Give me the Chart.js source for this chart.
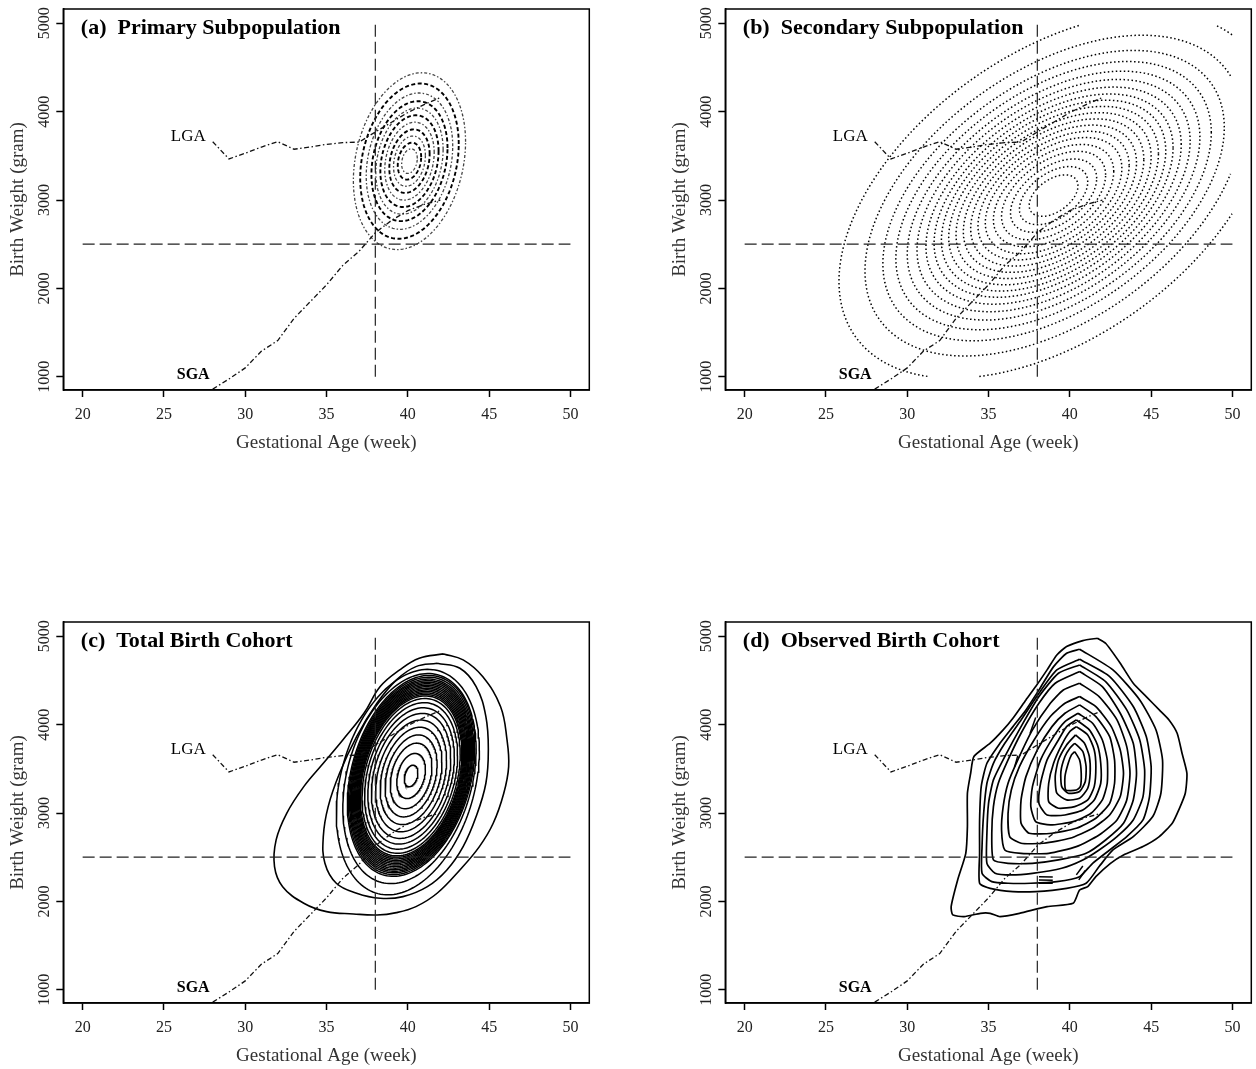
<!DOCTYPE html>
<html><head><meta charset="utf-8">
<script src="https://cdn.jsdelivr.net/npm/chart.js@4.4.1/dist/chart.umd.min.js"></script>
<style>
html,body{margin:0;padding:0;background:#fff;overflow:hidden;width:1256px;height:1069px;}
canvas{position:absolute;}
</style></head><body>
<canvas id="ca" width="600" height="460" style="left:0px;top:0px"></canvas>
<canvas id="cb" width="594" height="460" style="left:662px;top:0px"></canvas>
<canvas id="cc" width="600" height="456" style="left:0px;top:613px"></canvas>
<canvas id="cd" width="594" height="456" style="left:662px;top:613px"></canvas>
<script>
// ---------- data ----------
const X_TICKS = [20, 25, 30, 35, 40, 45, 50];
const Y_TICKS = [1000, 2000, 3000, 4000, 5000];
const GRID_X = [20, 50];
const GRID_Y = [1000, 5000];
const CUTOFF_WEEK = 38;
const CUTOFF_WEIGHT = 2500;

const GA_WEEKS = [28, 29, 30, 31, 32, 33, 34, 35, 36, 37, 38, 39, 40, 41, 42];
const LGA_BW = [3660, 3465, 3530, 3600, 3660, 3575, 3600, 3630, 3650, 3655, 3770, 3880, 3990, 4080, 4160];
const SGA_BW = [860, 975, 1100, 1290, 1410, 1660, 1850, 2040, 2260, 2420, 2630, 2770, 2880, 2950, 3000];
const LGA_LABEL_AT = [26.5, 3713];
const SGA_LABEL_AT = [26.8, 1022];

// (a) primary subpopulation: normal-density contours (centre, correlation, weight/week ratio, half-widths)
const A_CENTER = [40.1, 3440];
const A_RHO = 0.22;
const A_RATIO = 290;
const A_HALFWIDTHS = [3.45, 3.03, 2.66, 2.34, 2.07, 1.79, 1.52, 1.24, 0.98, 0.72, 0.48];

// (b) secondary subpopulation
const B_CENTER = [39.0, 3050];
const B_RHO = 0.47;
const B_RATIO = 156.5;
const B_HALFWIDTHS = [13.2, 11.6, 10.5, 9.7, 9.0, 8.4, 7.85, 7.35, 6.9, 6.45, 6.0, 5.55, 5.1, 4.65, 4.2, 3.7, 3.2, 2.65, 2.1, 1.5];

// (c) total birth cohort: inner elliptical contours + outer contours
const C_CENTER = [40.2, 3420];
const C_RHO = 0.28;
const C_RATIO = 290;
const C_HALFWIDTHS = [0.42, 0.88, 1.28, 1.6, 1.9, 2.18, 2.44, 2.66, 2.86, 3.02, 3.12, 3.18, 3.24, 3.3, 3.36, 3.42, 3.48, 3.54, 3.6, 3.66, 3.72, 3.78, 3.85, 3.92];
const C_MID_CONTOURS = [[40.1, 3390, 4.1], [40.0, 3350, 4.4]];
const C_OUTER_1 = [[42.2,4801],[43.4,4733],[44.6,4544],[45.7,4205],[46.1,3827],[46.2,3525],[45.9,3224],[45.25,2884],[44.4,2620],[43.2,2356],[41.8,2092],[40.5,1941],[39.3,1873],[38.1,1846],[36.65,1858],[35.0,1884],[33.6,1979],[32.3,2167],[31.8,2394],[31.9,2696],[32.55,2997],[33.6,3299],[34.8,3563],[36.0,3827],[37.3,4129],[38.3,4431],[39.5,4620],[40.7,4752],[42.2,4801]];
const C_OUTER_2 = [[41.8,4695],[43.2,4638],[44.2,4431],[44.8,4092],[44.95,3714],[44.8,3337],[44.2,2960],[43.4,2620],[42.4,2356],[41.2,2167],[39.7,2054],[38.3,2035],[36.85,2092],[35.6,2205],[34.9,2431],[34.8,2733],[35.1,3073],[35.8,3450],[36.85,3865],[38.1,4242],[39.3,4507],[40.5,4657],[41.8,4695]];

// (d) observed birth cohort: contour polylines
const D_C1 = [[41.7,4978],[42.2,4921],[43.1,4695],[43.9,4469],[44.7,4318],[45.5,4167],[46.1,4054],[46.6,3903],[46.9,3676],[47.2,3450],[47.1,3224],[46.7,3035],[46.3,2884],[45.5,2733],[44.5,2620],[43.3,2526],[42.5,2431],[41.6,2280],[41.1,2167],[40.6,2129],[40.2,1978],[38.6,1941],[36.9,1865],[35.7,1828],[35.1,1865],[34.5,1865],[33.5,1828],[32.8,1847],[32.7,1941],[33.1,2243],[33.6,2544],[33.7,2846],[33.7,3224],[33.9,3450],[34.1,3639],[35.1,3790],[35.9,3941],[36.5,4073],[37.3,4280],[37.9,4431],[38.6,4620],[39.2,4789],[39.8,4884],[40.8,4952],[41.7,4978]];
const D_C2 = [[40.6,4854],[42.65,4620],[44.3,4280],[45.3,3940],[45.7,3601],[45.6,3224],[45.1,2960],[43.9,2733],[42.65,2582],[41.8,2394],[41.0,2205],[39.8,2148],[37.9,2111],[36.5,2111],[35.1,2148],[34.45,2205],[34.45,2544],[34.45,2922],[34.55,3299],[34.9,3563],[35.7,3789],[36.5,3978],[37.3,4167],[38.1,4393],[39.0,4657],[39.8,4808],[40.6,4854]];
const D_C3 = [[40.6,4740],[42.45,4544],[43.9,4205],[44.7,3865],[45.0,3525],[44.9,3186],[44.5,2922],[43.5,2733],[42.45,2582],[41.4,2431],[40.6,2280],[39.2,2224],[37.6,2205],[36.2,2205],[35.2,2224],[34.6,2318],[34.6,2620],[34.7,2997],[34.9,3337],[35.3,3563],[36.0,3789],[37.0,4054],[38.1,4356],[39.2,4620],[40.6,4740]];
const D_C4 = [[40.6,4676],[42.2,4488],[43.5,4167],[44.3,3827],[44.6,3488],[44.5,3186],[43.9,2922],[42.9,2733],[41.8,2582],[40.8,2469],[39.5,2375],[37.7,2318],[36.4,2299],[35.4,2318],[34.9,2431],[34.9,2771],[35.0,3110],[35.3,3375],[36.0,3639],[37.0,3978],[38.1,4318],[39.3,4582],[40.6,4676]];
const D_C5 = [[40.6,4601],[42.0,4431],[43.1,4129],[43.9,3789],[44.1,3450],[43.9,3148],[43.3,2884],[42.2,2695],[41.0,2544],[39.3,2469],[37.7,2431],[36.2,2431],[35.3,2469],[35.2,2771],[35.3,3073],[35.6,3337],[36.2,3601],[37.0,3903],[38.1,4242],[39.1,4469],[40.6,4601]];
const D_C6 = [[40.6,4469],[41.8,4318],[42.9,4054],[43.5,3752],[43.7,3450],[43.5,3148],[42.9,2922],[41.8,2752],[40.4,2620],[38.7,2544],[37.0,2544],[36.0,2582],[35.8,2808],[35.9,3073],[36.2,3337],[36.8,3601],[37.7,3941],[38.8,4242],[39.6,4393],[40.6,4469]];
const D_C7 = [[40.6,4318],[41.6,4205],[42.55,3978],[43.1,3714],[43.3,3450],[43.1,3186],[42.45,2978],[41.4,2827],[40.0,2714],[38.4,2658],[37.0,2658],[36.3,2733],[36.2,2997],[36.4,3261],[36.9,3525],[37.8,3827],[38.8,4092],[39.7,4242],[40.6,4318]];
const D_C8 = [[40.6,4224],[41.6,4092],[42.45,3865],[42.75,3601],[42.75,3337],[42.45,3110],[41.6,2941],[40.4,2827],[38.9,2771],[37.5,2771],[37.0,2884],[37.0,3148],[37.3,3412],[38.0,3714],[38.9,3978],[39.7,4129],[40.6,4224]];
const D_C9 = [[40.5,4129],[41.4,4016],[42.0,3827],[42.3,3601],[42.3,3337],[42.0,3148],[41.3,2997],[40.2,2903],[38.8,2865],[37.9,2903],[37.6,3073],[37.7,3299],[38.2,3601],[39.0,3865],[39.7,4035],[40.5,4129]];
const D_C10 = [[40.4,4054],[41.2,3941],[41.7,3771],[41.9,3563],[41.9,3337],[41.5,3148],[40.8,3035],[39.7,2978],[38.6,2978],[38.1,3110],[38.2,3337],[38.6,3601],[39.3,3827],[39.8,3978],[40.4,4054]];
const D_C11 = [[40.4,3978],[41.1,3884],[41.5,3714],[41.6,3525],[41.5,3299],[41.1,3148],[40.3,3073],[39.3,3054],[38.7,3129],[38.7,3337],[39.0,3563],[39.5,3771],[40.0,3922],[40.4,3978]];
const D_C12 = [[40.35,3884],[40.9,3790],[41.2,3639],[41.25,3450],[41.1,3280],[40.6,3167],[39.8,3148],[39.2,3224],[39.1,3412],[39.3,3601],[39.8,3771],[40.35,3884]];
const D_C13 = [[40.3,3790],[40.8,3695],[41.0,3525],[40.95,3356],[40.6,3243],[39.9,3224],[39.5,3299],[39.45,3469],[39.7,3639],[40.0,3733],[40.3,3790]];
const D_C14 = [[40.3,3695],[40.6,3601],[40.7,3450],[40.65,3299],[40.4,3261],[39.75,3261],[39.7,3412],[39.9,3563],[40.1,3658],[40.3,3695]];
const D_CONTOURS = [D_C1, D_C2, D_C3, D_C4, D_C5, D_C6, D_C7, D_C8, D_C9, D_C10, D_C11, D_C12, D_C13, D_C14];
// short contour fragments
const D_FRAGMENTS = [
  [[38.1,2280],[38.95,2275]], [[38.1,2243],[38.95,2240]], [[38.1,2205],[38.95,2205]],
  [[40.4,2300],[40.8,2400]], [[40.55,2243],[40.95,2350]],
  [[37.55,3900],[37.9,4080]], [[36.6,3520],[36.8,3650]]
];

// ---------- helpers ----------
const SERIF = '"Liberation Serif", "DejaVu Serif", serif';
const X_MIN = 18.81, X_MAX = 51.16, Y_MIN = 850, Y_MAX = 5162;

function inGrid(x, y) { return x >= GRID_X[0] && x <= GRID_X[1] && y >= GRID_Y[0] && y <= GRID_Y[1]; }
function contourEllipse(cx, cy, halfW, ratio, rho) {
  const pts = [], n = 160, q = Math.sqrt(1 - rho * rho), S = halfW * ratio;
  for (let i = 0; i <= n; i++) {
    const t = 2 * Math.PI * i / n;
    const x = cx + halfW * Math.cos(t);
    const y = cy + S * (rho * Math.cos(t) + q * Math.sin(t));
    pts.push(inGrid(x, y) ? {x, y} : {x: NaN, y: NaN});
  }
  return pts;
}
function fromPairs(arr) { return arr.map(p => ({x: p[0], y: p[1]})); }

function refDatasets() {
  return [
    {data: [{x: GRID_X[0], y: CUTOFF_WEIGHT}, {x: GRID_X[1], y: CUTOFF_WEIGHT}], borderColor: '#222', borderWidth: 1.2, borderDash: [12, 5]},
    {data: [{x: CUTOFF_WEEK, y: GRID_Y[0]}, {x: CUTOFF_WEEK, y: GRID_Y[1]}], borderColor: '#222', borderWidth: 1.2, borderDash: [12, 5]},
    {data: GA_WEEKS.map((w, i) => ({x: w, y: LGA_BW[i]})), borderColor: '#111', borderWidth: 1.3, borderDash: [5, 2.5, 1.5, 2.5]},
    {data: GA_WEEKS.map((w, i) => ({x: w, y: SGA_BW[i]})), borderColor: '#111', borderWidth: 1.3, borderDash: [5, 2.5, 1.5, 2.5]}
  ];
}

const decoPlugin = {
  id: 'deco',
  afterDraw(chart, args, opts) {
    const {ctx, chartArea: a, scales: {x, y}} = chart;
    ctx.save();
    ctx.strokeStyle = '#000'; ctx.lineWidth = 1.5;
    ctx.strokeRect(a.left, a.top, a.right - a.left, a.bottom - a.top);
    ctx.fillStyle = '#222';
    ctx.font = '16px ' + SERIF; ctx.textAlign = 'center'; ctx.textBaseline = 'middle';
    Y_TICKS.forEach(v => {
      ctx.save(); ctx.translate(a.left - 18.5, y.getPixelForValue(v)); ctx.rotate(-Math.PI / 2);
      ctx.fillText(String(v), 0, 0); ctx.restore();
    });
    ctx.fillStyle = '#000';
    ctx.font = 'bold 22px ' + SERIF; ctx.textAlign = 'left';
    ctx.fillText(opts.title, a.left + 17.5, a.top + 19);
    ctx.textAlign = 'center';
    ctx.font = '17px ' + SERIF;
    ctx.fillText('LGA', x.getPixelForValue(LGA_LABEL_AT[0]), y.getPixelForValue(LGA_LABEL_AT[1]));
    ctx.font = 'bold 16px ' + SERIF;
    ctx.fillText('SGA', x.getPixelForValue(SGA_LABEL_AT[0]), y.getPixelForValue(SGA_LABEL_AT[1]));
    ctx.restore();
  }
};

function makePanel(id, W, H, title, contourSets) {
  const datasets = refDatasets().concat(contourSets).map(d => Object.assign({showLine: true, pointRadius: 0, fill: false, spanGaps: false}, d));
  return new Chart(document.getElementById(id), {
    type: 'scatter',
    data: {datasets},
    options: {
      responsive: false, animation: false, devicePixelRatio: 1, events: [],
      layout: {padding: {left: 0, top: 9, right: W - 589.3, bottom: 0}},
      plugins: {legend: {display: false}, tooltip: {enabled: false}, deco: {title}},
      elements: {point: {radius: 0, hoverRadius: 0}},
      scales: {
        x: {
          type: 'linear', min: X_MIN, max: X_MAX,
          afterBuildTicks: s => { s.ticks = X_TICKS.map(v => ({value: v})); },
          afterFit: s => { s.height = H - 390; },
          ticks: {font: {family: SERIF, size: 16}, color: '#222', padding: 8, maxRotation: 0, autoSkip: false},
          grid: {drawOnChartArea: false, drawTicks: true, tickLength: 7, tickWidth: 1.5, color: '#000'},
          border: {display: true, color: '#000', width: 1.5},
          title: {display: true, text: 'Gestational Age (week)', font: {family: SERIF, size: 19}, color: '#333', padding: {top: 0, bottom: H - 443 - 11.4}}
        },
        y: {
          type: 'linear', min: Y_MIN, max: Y_MAX,
          afterBuildTicks: s => { s.ticks = Y_TICKS.map(v => ({value: v})); },
          afterFit: s => { s.width = 63.3; },
          ticks: {display: false},
          grid: {drawOnChartArea: false, drawTicks: true, tickLength: 7, tickWidth: 1.5, color: '#000'},
          border: {display: true, color: '#000', width: 1.5},
          title: {display: true, text: 'Birth Weight (gram)', font: {family: SERIF, size: 19}, color: '#333', padding: {top: 6.6, bottom: 0}}
        }
      }
    },
    plugins: [decoPlugin]
  });
}

// (a)
const setsA = A_HALFWIDTHS.map((hw, i) => ({
  data: contourEllipse(A_CENTER[0], A_CENTER[1], hw, A_RATIO, A_RHO),
  borderColor: i % 2 === 0 ? '#444' : '#000',
  borderWidth: i % 2 === 0 ? 1.3 : 1.9,
  borderDash: i % 2 === 0 ? [3, 2, 1.5, 2] : [4, 2.5]
}));
makePanel('ca', 600, 460, '(a)  Primary Subpopulation', setsA);

// (b)
const setsB = B_HALFWIDTHS.map(hw => ({
  data: contourEllipse(B_CENTER[0], B_CENTER[1], hw, B_RATIO, B_RHO),
  borderColor: '#000', borderWidth: 1.5, borderDash: [1.5, 2.5]
}));
makePanel('cb', 594, 460, '(b)  Secondary Subpopulation', setsB);

// (c)
const setsC = C_HALFWIDTHS.map(hw => ({
  data: contourEllipse(C_CENTER[0], C_CENTER[1], hw, C_RATIO, C_RHO),
  borderColor: '#000', borderWidth: 1.5
})).concat(C_MID_CONTOURS.map(c => ({
  data: contourEllipse(c[0], c[1], c[2], C_RATIO, C_RHO),
  borderColor: '#000', borderWidth: 1.5
}))).concat([C_OUTER_2, C_OUTER_1].map(c => ({
  data: fromPairs(c), borderColor: '#000', borderWidth: 1.6, tension: 0.4
})));
makePanel('cc', 600, 456, '(c)  Total Birth Cohort', setsC);

// (d)
const setsD = D_CONTOURS.map(c => ({data: fromPairs(c), borderColor: '#000', borderWidth: 1.7, tension: 0.2}))
  .concat(D_FRAGMENTS.map(f => ({data: fromPairs(f), borderColor: '#000', borderWidth: 1.5})));
makePanel('cd', 594, 456, '(d)  Observed Birth Cohort', setsD);
</script>
</body></html>
